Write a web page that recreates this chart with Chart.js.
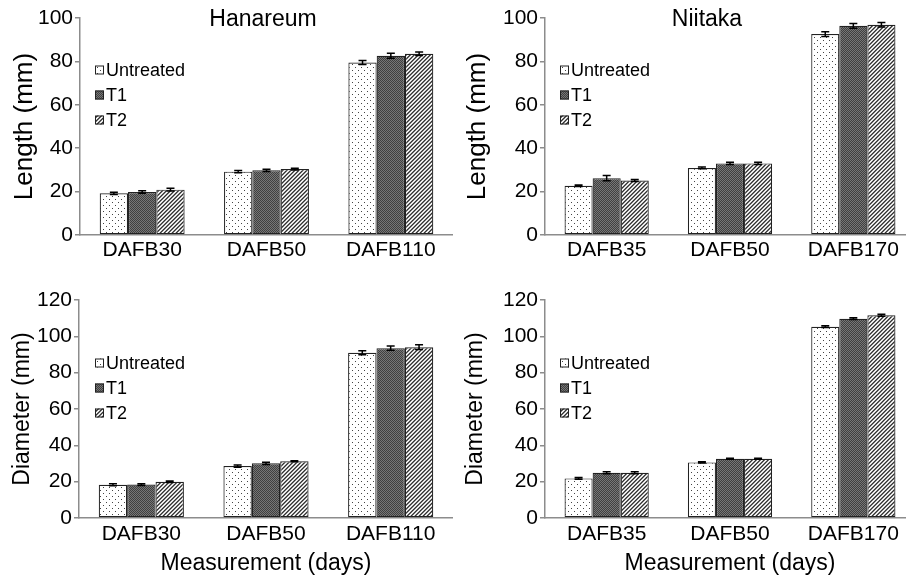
<!DOCTYPE html>
<html>
<head>
<meta charset="utf-8">
<script src="https://cdn.jsdelivr.net/npm/chart.js@4.4.0/dist/chart.umd.min.js"></script>
<style>
    body { margin: 0; background: #fff; }
    #wrap { position: relative; width: 906px; height: 581px; overflow: hidden; }
    #wrap canvas { position: absolute; }
</style>
</head>
<body>
<div id="wrap">
    <canvas id="c1" width="453" height="272" style="left:0;top:0"></canvas>
    <canvas id="c2" width="462" height="272" style="left:453px;top:0"></canvas>
    <canvas id="c3" width="453" height="311" style="left:0;top:270px"></canvas>
    <canvas id="c4" width="462" height="311" style="left:453px;top:270px"></canvas>
</div>
<script>
const seriesNames = ['Untreated', 'T1', 'T2'];
const hanaLabels = ['DAFB30', 'DAFB50', 'DAFB110'];
const niiLabels = ['DAFB35', 'DAFB50', 'DAFB170'];
const lengthTicks = [0, 20, 40, 60, 80, 100];
const diameterTicks = [0, 20, 40, 60, 80, 100, 120];

// Hanareum length (mm): one row per treatment
const hanaLength = [[19.2, 29.2, 79.5], [19.8, 29.8, 82.6], [20.9, 30.4, 83.5]];
const hanaLengthErr = [[0.5, 0.5, 0.9], [0.6, 0.5, 1.2], [0.6, 0.4, 0.8]];
// Niitaka length (mm)
const niiLength = [[22.7, 30.9, 92.6], [26.2, 33.0, 96.4], [25.1, 33.0, 96.9]];
const niiLengthErr = [[0.3, 0.4, 1.1], [1.2, 0.5, 1.1], [0.5, 0.5, 1.0]];
// Hanareum diameter (mm)
const hanaDiameter = [[18.3, 28.6, 90.9], [18.4, 30.1, 93.5], [19.9, 31.2, 94.0]];
const hanaDiameterErr = [[0.6, 0.6, 1.1], [0.5, 0.6, 1.2], [0.4, 0.3, 1.3]];
// Niitaka diameter (mm)
const niiDiameter = [[21.8, 30.6, 105.3], [24.9, 32.6, 109.7], [24.9, 32.6, 111.6]];
const niiDiameterErr = [[0.5, 0.3, 0.5], [0.5, 0.3, 0.5], [0.5, 0.3, 0.5]];

const FONT = '"Liberation Sans", Arial, sans-serif';
const AXIS_GREY = '#8c8c8c';

function makePattern(kind) {
    const c = document.createElement('canvas');
    const p = c.getContext('2d');
    if (kind === 'dots') {
        c.width = 6; c.height = 6;
        p.fillStyle = '#fff'; p.fillRect(0, 0, 6, 6);
        p.fillStyle = '#444';
        p.fillRect(1, 1, 1, 1);
        p.fillRect(4, 4, 1, 1);
    } else if (kind === 'dark') {
        c.width = 2; c.height = 2;
        p.fillStyle = '#777'; p.fillRect(0, 0, 2, 2);
        p.fillStyle = '#404040';
        p.fillRect(0, 0, 1, 1);
        p.fillRect(1, 1, 1, 1);
    } else {
        c.width = 4; c.height = 4;
        const shades = ['#333', '#777', '#fff', '#ccc'];
        for (let x = 0; x < 4; x++) {
            for (let y = 0; y < 4; y++) {
                p.fillStyle = shades[(x + y) % 4];
                p.fillRect(x, y, 1, 1);
            }
        }
    }
    return p.createPattern(c, 'repeat');
}

const fills = [makePattern('dots'), makePattern('dark'), makePattern('hatch')];

const errorBars = {
    id: 'errorBars',
    afterDatasetsDraw(chart) {
        const ctx = chart.ctx;
        const y = chart.scales.y;
        ctx.save();
        ctx.strokeStyle = '#000';
        ctx.lineWidth = 1.5;
        chart.data.datasets.forEach((ds, i) => {
            chart.getDatasetMeta(i).data.forEach((bar, j) => {
                const v = ds.data[j], e = ds.errors[j];
                const top = y.getPixelForValue(v + e);
                const bot = y.getPixelForValue(v - e);
                ctx.beginPath();
                ctx.moveTo(bar.x, top); ctx.lineTo(bar.x, bot);
                ctx.moveTo(bar.x - 4, top); ctx.lineTo(bar.x + 4, top);
                ctx.moveTo(bar.x - 4, bot); ctx.lineTo(bar.x + 4, bot);
                ctx.stroke();
            });
        });
        ctx.restore();
    }
};

const panelTitle = {
    id: 'panelTitle',
    afterDraw(chart, args, opts) {
        if (!opts.text) return;
        const ctx = chart.ctx;
        ctx.save();
        ctx.font = '23px ' + FONT;
        ctx.fillStyle = '#000';
        ctx.textAlign = 'center';
        ctx.textBaseline = 'middle';
        ctx.fillText(opts.text, opts.x, opts.y);
        ctx.restore();
    }
};

// legend drawn inside the plot area, top left
const insideLegend = {
    id: 'insideLegend',
    afterDraw(chart, args, opts) {
        const ctx = chart.ctx;
        const area = chart.chartArea;
        ctx.save();
        ctx.font = '18px ' + FONT;
        ctx.textBaseline = 'middle';
        chart.data.datasets.forEach((ds, i) => {
            const bx = area.left + opts.dx;
            const cy = area.top + opts.dy + i * opts.gap;
            ctx.fillStyle = ds.backgroundColor;
            ctx.fillRect(bx, cy - 4.5, 9, 9);
            ctx.strokeStyle = '#222';
            ctx.lineWidth = 1;
            ctx.strokeRect(bx + 0.5, cy - 4, 8, 8);
            ctx.fillStyle = '#000';
            ctx.fillText(ds.label, bx + 11, cy + 1);
        });
        ctx.restore();
    }
};

function makePanel(id, cfg) {
    new Chart(document.getElementById(id), {
        type: 'bar',
        data: {
            labels: cfg.labels,
            datasets: seriesNames.map((name, i) => ({
                label: name,
                data: cfg.values[i],
                errors: cfg.errors[i],
                backgroundColor: fills[i],
                borderColor: '#222',
                borderWidth: 1.2,
                borderSkipped: false,
                categoryPercentage: 0.683,
                barPercentage: 1.0
            }))
        },
        plugins: [errorBars, panelTitle, insideLegend],
        options: {
            responsive: false,
            animation: false,
            layout: { padding: { top: cfg.padTop, right: 0, left: 0, bottom: 0 } },
            plugins: {
                legend: { display: false },
                tooltip: { enabled: false },
                panelTitle: cfg.title,
                insideLegend: cfg.legend
            },
            scales: {
                x: {
                    ticks: { color: '#000', font: { family: FONT, size: 21 }, padding: cfg.xTickPad },
                    grid: { drawOnChartArea: false, drawTicks: false },
                    border: { color: AXIS_GREY, width: 1.5 },
                    title: {
                        display: !!cfg.xTitle,
                        text: cfg.xTitle || '',
                        color: '#000',
                        font: { family: FONT, size: 23 },
                        padding: { top: 0, bottom: 4 }
                    },
                    afterFit: s => { s.height = cfg.xHeight; }
                },
                y: {
                    min: 0,
                    max: cfg.ticks[cfg.ticks.length - 1],
                    afterBuildTicks: s => { s.ticks = cfg.ticks.map(v => ({ value: v })); },
                    ticks: { color: '#000', font: { family: FONT, size: 21 }, padding: 2 },
                    grid: { drawOnChartArea: false, color: AXIS_GREY, tickLength: 5, lineWidth: 1.5 },
                    border: { color: AXIS_GREY, width: 1.5 },
                    title: {
                        display: true,
                        text: cfg.yTitle,
                        color: '#000',
                        font: { family: FONT, size: cfg.yTitleSize },
                        padding: { top: cfg.yTitlePad, bottom: 0 }
                    },
                    afterFit: s => { s.width = cfg.axisWidth; }
                }
            }
        }
    });
}

makePanel('c1', {
    labels: hanaLabels, values: hanaLength, errors: hanaLengthErr, ticks: lengthTicks,
    yTitle: 'Length (mm)', yTitleSize: 26, yTitlePad: 9,
    axisWidth: 80, padTop: 18, xHeight: 37, xTickPad: 3,
    title: { text: 'Hanareum', x: 263, y: 20 },
    legend: { dx: 15, dy: 52, gap: 25 }
});
makePanel('c2', {
    labels: niiLabels, values: niiLength, errors: niiLengthErr, ticks: lengthTicks,
    yTitle: 'Length (mm)', yTitleSize: 26, yTitlePad: 9,
    axisWidth: 92, padTop: 18, xHeight: 37, xTickPad: 3,
    title: { text: 'Niitaka', x: 254, y: 20 },
    legend: { dx: 15, dy: 52, gap: 25 }
});
makePanel('c3', {
    labels: hanaLabels, values: hanaDiameter, errors: hanaDiameterErr, ticks: diameterTicks,
    yTitle: 'Diameter (mm)', yTitleSize: 23, yTitlePad: 9,
    axisWidth: 79, padTop: 30, xHeight: 63, xTickPad: 4,
    xTitle: 'Measurement (days)',
    title: {},
    legend: { dx: 16, dy: 63, gap: 25 }
});
makePanel('c4', {
    labels: niiLabels, values: niiDiameter, errors: niiDiameterErr, ticks: diameterTicks,
    yTitle: 'Diameter (mm)', yTitleSize: 23, yTitlePad: 9,
    axisWidth: 92, padTop: 30, xHeight: 63, xTickPad: 4,
    xTitle: 'Measurement (days)',
    title: {},
    legend: { dx: 15, dy: 63, gap: 25 }
});
</script>
</body>
</html>
